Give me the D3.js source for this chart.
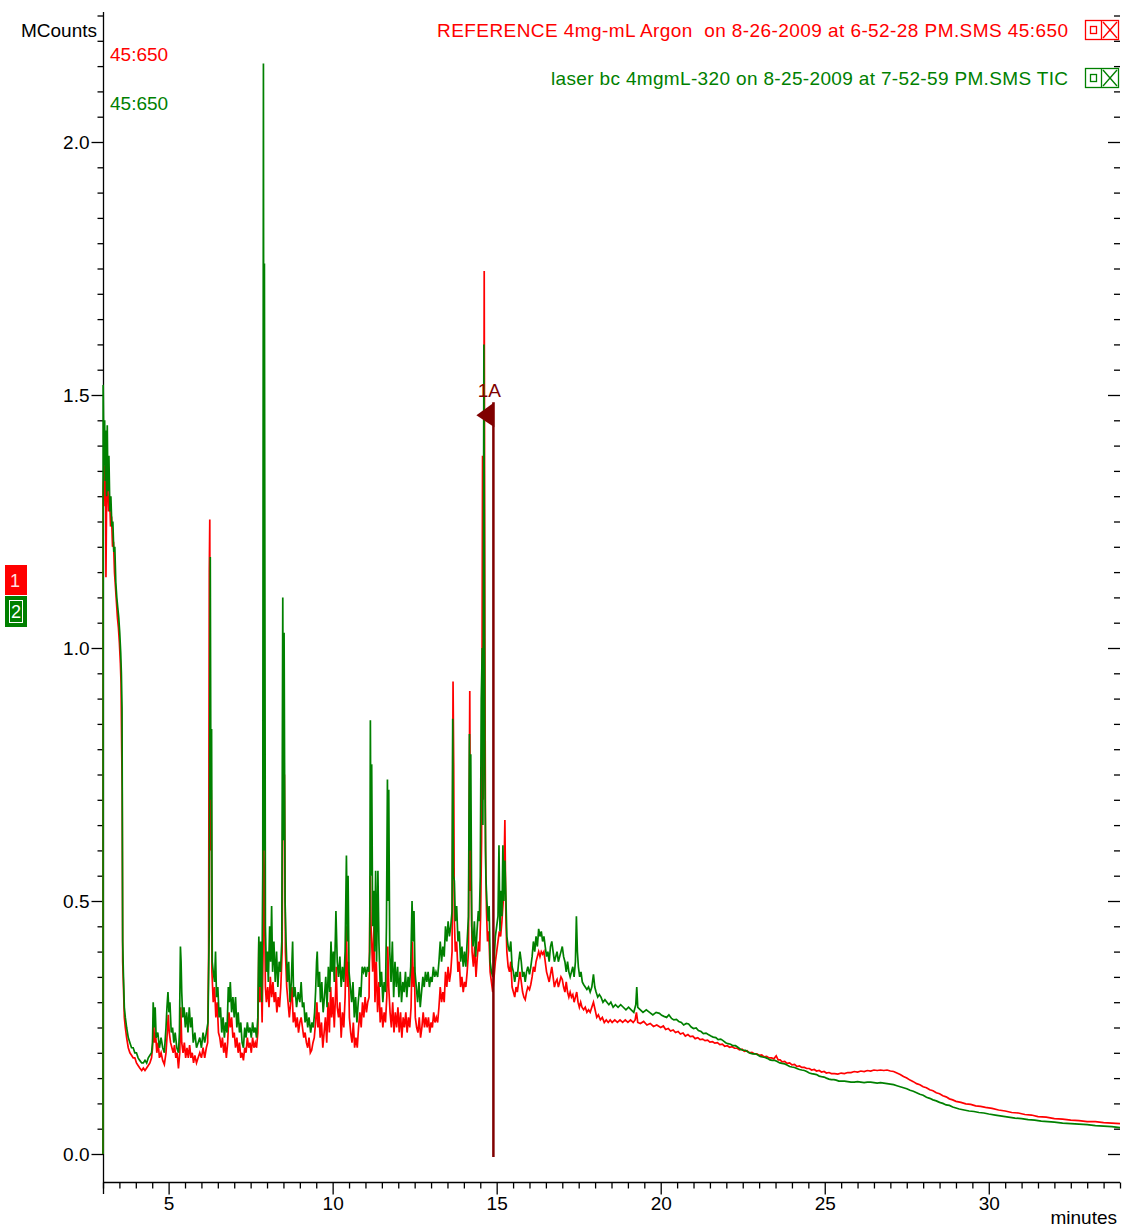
<!DOCTYPE html>
<html>
<head>
<meta charset="utf-8">
<script src="https://cdn.jsdelivr.net/npm/d3@7"></script>
<style>
  html, body { margin: 0; padding: 0; background: #ffffff; }
  svg { display: block; font-family: "Liberation Sans", Arial, sans-serif; }
  .pre { white-space: pre; }
</style>
</head>
<body>
<svg id="chart" width="1125" height="1228"></svg>
<script>
// Trace 1: reference run (45:650), [minutes, MCounts]
const referenceTrace = [
  [3.00,0.00],[3.005,1.30],[3.01,1.32],[3.04,1.36],[3.06,1.28],[3.08,1.34],[3.09,1.14],[3.11,1.30],[3.14,1.33],[3.17,1.27],
  [3.20,1.30],[3.23,1.24],[3.26,1.26],[3.29,1.20],[3.32,1.21],[3.35,1.15],[3.38,1.12],[3.41,1.09],[3.44,1.06],[3.47,1.04],
  [3.50,1.01],[3.53,0.97],[3.55,0.93],[3.57,0.80],[3.585,0.72],[3.60,0.38],[3.62,0.34],[3.65,0.27],[3.68,0.25],[3.72,0.23],
  [3.77,0.21],[3.82,0.20],[3.87,0.195],[3.92,0.19],[3.97,0.19],[4.02,0.18],[4.07,0.175],[4.12,0.17],[4.18,0.165],[4.23,0.17],
  [4.28,0.165],[4.33,0.17],[4.38,0.175],[4.43,0.18],[4.48,0.19],[4.51,0.21],[4.54,0.27],[4.57,0.22],[4.60,0.24],[4.64,0.20],
  [4.68,0.22],[4.72,0.19],[4.77,0.20],[4.82,0.185],[4.87,0.177],[4.92,0.20],[4.96,0.24],[4.99,0.275],[5.02,0.24],[5.06,0.22],
  [5.10,0.21],[5.14,0.20],[5.18,0.215],[5.22,0.19],[5.26,0.20],[5.30,0.169],[5.34,0.20],[5.37,0.29],[5.40,0.22],[5.44,0.20],
  [5.48,0.22],[5.52,0.19],[5.56,0.21],[5.60,0.19],[5.64,0.215],[5.68,0.19],[5.72,0.20],[5.76,0.18],[5.80,0.195],[5.85,0.18],
  [5.90,0.19],[5.95,0.20],[6.00,0.19],[6.05,0.21],[6.10,0.19],[6.15,0.21],[6.19,0.22],[6.22,0.40],[6.24,1.15],[6.255,1.254],
  [6.27,0.60],[6.30,0.72],[6.32,0.36],[6.36,0.30],[6.40,0.33],[6.44,0.27],[6.48,0.30],[6.52,0.24],[6.56,0.23],[6.60,0.21],
  [6.64,0.23],[6.68,0.20],[6.72,0.22],[6.76,0.19],[6.80,0.22],[6.84,0.28],[6.88,0.25],[6.92,0.27],[6.96,0.23],[7.00,0.24],
  [7.04,0.21],[7.08,0.23],[7.12,0.20],[7.16,0.22],[7.20,0.19],[7.24,0.20],[7.28,0.185],[7.32,0.21],[7.36,0.20],[7.40,0.23],
  [7.44,0.21],[7.48,0.22],[7.52,0.20],[7.56,0.23],[7.60,0.21],[7.64,0.22],[7.68,0.21],[7.72,0.24],[7.75,0.42],[7.78,0.30],
  [7.82,0.36],[7.85,0.26],[7.88,0.40],[7.90,0.62],[7.92,0.53],[7.95,0.33],[7.98,0.30],[8.02,0.33],[8.06,0.29],[8.10,0.35],
  [8.14,0.31],[8.18,0.34],[8.22,0.30],[8.26,0.32],[8.30,0.28],[8.34,0.31],[8.38,0.29],[8.42,0.33],[8.46,0.40],[8.49,0.80],
  [8.51,0.63],[8.53,0.75],[8.56,0.40],[8.60,0.33],[8.64,0.30],[8.68,0.27],[8.72,0.30],[8.76,0.33],[8.80,0.26],[8.84,0.28],
  [8.88,0.25],[8.92,0.27],[8.96,0.24],[9.00,0.26],[9.04,0.27],[9.08,0.25],[9.12,0.23],[9.16,0.24],[9.20,0.22],[9.24,0.21],
  [9.28,0.23],[9.32,0.20],[9.36,0.205],[9.40,0.22],[9.44,0.23],[9.48,0.26],[9.52,0.30],[9.55,0.25],[9.58,0.28],[9.62,0.23],
  [9.66,0.26],[9.70,0.21],[9.74,0.24],[9.78,0.27],[9.82,0.22],[9.86,0.30],[9.90,0.24],[9.94,0.33],[9.97,0.27],[10.01,0.31],
  [10.05,0.25],[10.09,0.32],[10.11,0.37],[10.14,0.29],[10.18,0.27],[10.22,0.30],[10.26,0.23],[10.30,0.28],[10.34,0.25],[10.38,0.31],
  [10.42,0.45],[10.45,0.33],[10.48,0.38],[10.51,0.27],[10.55,0.24],[10.59,0.22],[10.63,0.26],[10.67,0.21],[10.71,0.23],[10.75,0.21],
  [10.79,0.25],[10.83,0.28],[10.87,0.25],[10.91,0.30],[10.95,0.27],[10.99,0.31],[11.03,0.28],[11.07,0.30],[11.11,0.31],[11.14,0.52],
  [11.15,0.55],[11.17,0.45],[11.19,0.42],[11.22,0.36],[11.26,0.45],[11.29,0.30],[11.33,0.38],[11.37,0.28],[11.41,0.34],[11.45,0.26],
  [11.49,0.29],[11.53,0.25],[11.57,0.28],[11.61,0.26],[11.65,0.31],[11.68,0.41],[11.71,0.33],[11.75,0.28],[11.79,0.25],[11.83,0.30],
  [11.87,0.24],[11.91,0.28],[11.95,0.25],[11.99,0.29],[12.03,0.24],[12.07,0.28],[12.11,0.23],[12.15,0.27],[12.19,0.25],[12.23,0.28],
  [12.27,0.24],[12.31,0.27],[12.35,0.25],[12.39,0.29],[12.43,0.42],[12.46,0.33],[12.49,0.37],[12.52,0.27],[12.56,0.25],[12.60,0.24],
  [12.64,0.27],[12.68,0.23],[12.72,0.25],[12.76,0.28],[12.80,0.25],[12.84,0.27],[12.88,0.25],[12.92,0.27],[12.96,0.24],[13.00,0.26],
  [13.04,0.25],[13.08,0.28],[13.12,0.26],[13.16,0.27],[13.20,0.26],[13.24,0.29],[13.28,0.33],[13.32,0.30],[13.36,0.32],[13.40,0.30],
  [13.44,0.36],[13.48,0.33],[13.52,0.37],[13.56,0.34],[13.60,0.36],[13.64,0.40],[13.67,0.934],[13.69,0.77],[13.71,0.46],[13.74,0.40],
  [13.78,0.42],[13.82,0.36],[13.86,0.38],[13.90,0.33],[13.94,0.35],[13.98,0.32],[14.02,0.34],[14.06,0.33],[14.10,0.36],[14.14,0.40],
  [14.18,0.915],[14.20,0.52],[14.22,0.55],[14.25,0.40],[14.29,0.37],[14.33,0.41],[14.37,0.35],[14.41,0.39],[14.45,0.42],[14.48,0.40],
  [14.51,0.47],[14.54,0.62],[14.57,1.38],[14.59,0.70],[14.62,1.745],[14.64,1.02],[14.66,0.60],[14.69,0.48],[14.72,0.42],[14.76,0.44],
  [14.80,0.36],[14.84,0.34],[14.88,0.32],[14.92,0.35],[14.96,0.38],[15.00,0.40],[15.04,0.42],[15.08,0.44],[15.12,0.43],[15.16,0.46],
  [15.20,0.50],[15.23,0.58],[15.25,0.66],[15.28,0.47],[15.31,0.40],[15.35,0.37],[15.39,0.36],[15.43,0.38],[15.47,0.33],[15.51,0.32],
  [15.55,0.31],[15.59,0.33],[15.63,0.32],[15.67,0.34],[15.71,0.36],[15.75,0.34],[15.79,0.32],[15.83,0.31],[15.87,0.305],[15.91,0.32],
  [15.95,0.33],[16.00,0.325],[16.04,0.335],[16.08,0.35],[16.12,0.37],[16.16,0.36],[16.20,0.38],[16.24,0.39],[16.28,0.40],[16.32,0.39],
  [16.36,0.40],[16.40,0.395],[16.44,0.40],[16.48,0.38],[16.52,0.36],[16.56,0.35],[16.60,0.34],[16.64,0.355],[16.68,0.37],[16.72,0.35],
  [16.76,0.33],[16.80,0.34],[16.84,0.345],[16.88,0.33],[16.92,0.34],[16.96,0.35],[17.00,0.345],[17.04,0.33],[17.08,0.32],[17.12,0.34],
  [17.16,0.32],[17.20,0.31],[17.24,0.32],[17.28,0.31],[17.32,0.315],[17.36,0.30],[17.40,0.31],[17.44,0.32],[17.48,0.30],[17.52,0.29],
  [17.56,0.30],[17.60,0.29],[17.65,0.285],[17.70,0.29],[17.75,0.28],[17.80,0.285],[17.85,0.28],[17.90,0.29],[17.95,0.30],[18.00,0.285],
  [18.05,0.27],[18.10,0.275],[18.16,0.265],[18.22,0.27],[18.28,0.26],[18.34,0.265],[18.40,0.26],[18.46,0.265],[18.52,0.26],[18.60,0.265],
  [18.68,0.26],[18.76,0.265],[18.84,0.26],[18.92,0.265],[19.00,0.26],[19.08,0.265],[19.16,0.26],[19.22,0.265],[19.26,0.28],[19.30,0.26],
  [19.38,0.258],[19.48,0.262],[19.58,0.255],[19.68,0.258],[19.78,0.252],[19.88,0.255],[20.00,0.25],[20.08,0.253],[20.15,0.246],[20.23,0.248],
  [20.30,0.243],[20.38,0.245],[20.45,0.240],[20.53,0.242],[20.60,0.237],[20.68,0.239],[20.75,0.233],[20.83,0.236],[20.90,0.232],[20.98,0.233],
  [21.05,0.228],[21.13,0.230],[21.20,0.226],[21.28,0.227],[21.35,0.224],[21.43,0.225],[21.50,0.221],[21.58,0.222],[21.65,0.219],[21.73,0.220],
  [21.80,0.216],[21.88,0.217],[21.95,0.213],[22.03,0.214],[22.10,0.211],[22.18,0.212],[22.25,0.209],[22.33,0.209],[22.40,0.206],[22.48,0.207],
  [22.55,0.203],[22.63,0.204],[22.70,0.200],[22.78,0.201],[22.85,0.198],[22.93,0.198],[23.00,0.195],[23.08,0.196],[23.15,0.192],[23.23,0.193],
  [23.30,0.190],[23.38,0.190],[23.45,0.188],[23.52,0.194],[23.58,0.186],[23.64,0.186],[23.70,0.182],[23.78,0.183],[23.85,0.179],[23.93,0.180],
  [24.00,0.176],[24.08,0.177],[24.15,0.173],[24.23,0.174],[24.30,0.171],[24.38,0.171],[24.45,0.169],[24.53,0.169],[24.60,0.166],[24.68,0.167],
  [24.75,0.164],[24.83,0.165],[24.90,0.162],[24.98,0.163],[25.05,0.160],[25.13,0.161],[25.20,0.159],[25.30,0.159],[25.40,0.158],[25.50,0.160],
  [25.60,0.159],[25.70,0.161],[25.80,0.161],[25.90,0.163],[26.00,0.162],[26.10,0.164],[26.20,0.163],[26.30,0.165],[26.40,0.164],[26.50,0.166],
  [26.60,0.165],[26.70,0.166],[26.80,0.165],[26.90,0.166],[27.00,0.164],[27.10,0.163],[27.20,0.160],[27.30,0.157],[27.40,0.153],[27.50,0.150],
  [27.60,0.146],[27.70,0.143],[27.80,0.139],[27.90,0.137],[28.00,0.133],[28.10,0.131],[28.20,0.127],[28.30,0.125],[28.40,0.121],[28.50,0.119],
  [28.60,0.115],[28.70,0.113],[28.80,0.109],[28.90,0.107],[29.00,0.104],[29.15,0.102],[29.30,0.099],[29.45,0.098],[29.60,0.095],[29.75,0.094],
  [29.90,0.092],[30.10,0.090],[30.30,0.087],[30.50,0.085],[30.70,0.082],[30.90,0.081],[31.10,0.078],[31.30,0.077],[31.50,0.074],[31.75,0.073],
  [32.00,0.070],[32.25,0.069],[32.50,0.067],[32.75,0.066],[33.00,0.064],[33.25,0.064],[33.50,0.062],[33.75,0.061],[34.00,0.060]
];

// Trace 2: laser run (TIC), [minutes, MCounts]
const laserTrace = [
  [3.00,0.00],[3.005,1.52],[3.03,1.36],[3.05,1.45],[3.07,1.33],[3.09,1.43],[3.11,1.30],[3.13,1.44],[3.15,1.31],[3.18,1.38],
  [3.21,1.27],[3.24,1.30],[3.27,1.24],[3.30,1.25],[3.33,1.19],[3.36,1.20],[3.39,1.13],[3.42,1.10],[3.45,1.08],[3.48,1.06],
  [3.51,1.03],[3.54,0.99],[3.56,0.95],[3.58,0.88],[3.60,0.42],[3.62,0.36],[3.65,0.29],[3.68,0.27],[3.72,0.25],[3.77,0.23],
  [3.82,0.22],[3.87,0.21],[3.92,0.21],[3.97,0.20],[4.02,0.20],[4.07,0.19],[4.12,0.185],[4.18,0.18],[4.23,0.18],[4.28,0.185],
  [4.33,0.18],[4.38,0.19],[4.43,0.195],[4.48,0.20],[4.51,0.22],[4.53,0.30],[4.56,0.25],[4.59,0.29],[4.62,0.23],[4.67,0.24],
  [4.72,0.21],[4.77,0.23],[4.82,0.21],[4.87,0.20],[4.92,0.25],[4.95,0.29],[4.98,0.32],[5.01,0.28],[5.04,0.30],[5.08,0.24],
  [5.12,0.25],[5.16,0.22],[5.20,0.24],[5.25,0.21],[5.30,0.20],[5.33,0.24],[5.36,0.41],[5.38,0.38],[5.40,0.32],[5.43,0.27],
  [5.47,0.29],[5.51,0.25],[5.55,0.28],[5.59,0.24],[5.63,0.29],[5.67,0.25],[5.71,0.27],[5.75,0.22],[5.80,0.24],[5.85,0.21],
  [5.90,0.22],[5.95,0.23],[6.00,0.21],[6.05,0.24],[6.10,0.22],[6.15,0.24],[6.20,0.26],[6.24,0.45],[6.27,1.18],[6.29,0.70],
  [6.31,0.84],[6.33,0.38],[6.36,0.36],[6.40,0.34],[6.43,0.40],[6.46,0.31],[6.50,0.33],[6.54,0.27],[6.58,0.29],[6.62,0.24],
  [6.66,0.27],[6.70,0.23],[6.74,0.26],[6.78,0.24],[6.82,0.33],[6.85,0.30],[6.88,0.34],[6.92,0.28],[6.96,0.31],[7.00,0.27],
  [7.04,0.31],[7.08,0.25],[7.12,0.28],[7.16,0.24],[7.20,0.26],[7.24,0.22],[7.28,0.21],[7.32,0.25],[7.36,0.23],[7.40,0.26],
  [7.44,0.24],[7.48,0.25],[7.52,0.23],[7.56,0.26],[7.60,0.24],[7.64,0.25],[7.68,0.23],[7.72,0.27],[7.75,0.43],[7.78,0.33],
  [7.81,0.42],[7.84,0.30],[7.87,0.56],[7.89,2.155],[7.91,0.60],[7.92,1.76],[7.95,0.45],[7.98,0.36],[8.01,0.40],[8.04,0.34],
  [8.08,0.45],[8.11,0.38],[8.14,0.49],[8.17,0.36],[8.21,0.42],[8.25,0.34],[8.29,0.40],[8.33,0.33],[8.37,0.38],[8.41,0.36],
  [8.45,0.42],[8.48,1.10],[8.50,0.62],[8.52,1.03],[8.55,0.50],[8.58,0.42],[8.62,0.34],[8.66,0.38],[8.70,0.30],[8.74,0.34],
  [8.78,0.42],[8.81,0.31],[8.85,0.33],[8.90,0.29],[8.95,0.32],[9.00,0.30],[9.04,0.34],[9.08,0.29],[9.12,0.30],[9.16,0.26],
  [9.20,0.28],[9.24,0.25],[9.28,0.27],[9.33,0.24],[9.37,0.26],[9.41,0.25],[9.45,0.28],[9.48,0.32],[9.51,0.38],[9.53,0.40],
  [9.56,0.33],[9.60,0.36],[9.63,0.30],[9.67,0.34],[9.71,0.28],[9.75,0.31],[9.79,0.35],[9.83,0.29],[9.87,0.37],[9.91,0.32],
  [9.95,0.42],[9.98,0.36],[10.02,0.40],[10.05,0.34],[10.08,0.42],[10.10,0.48],[10.14,0.38],[10.18,0.35],[10.22,0.39],[10.26,0.33],
  [10.30,0.37],[10.34,0.34],[10.38,0.40],[10.42,0.59],[10.45,0.42],[10.47,0.55],[10.50,0.36],[10.54,0.33],[10.58,0.30],[10.62,0.34],
  [10.66,0.27],[10.70,0.31],[10.74,0.26],[10.78,0.30],[10.82,0.33],[10.86,0.31],[10.90,0.37],[10.94,0.36],[10.98,0.37],[11.02,0.35],
  [11.06,0.37],[11.10,0.36],[11.13,0.40],[11.15,0.857],[11.17,0.55],[11.19,0.77],[11.22,0.45],[11.25,0.52],[11.28,0.40],[11.31,0.56],
  [11.34,0.38],[11.38,0.56],[11.41,0.42],[11.45,0.33],[11.49,0.36],[11.53,0.30],[11.57,0.34],[11.61,0.32],[11.64,0.45],[11.67,0.74],
  [11.69,0.50],[11.71,0.72],[11.74,0.40],[11.78,0.34],[11.82,0.42],[11.86,0.31],[11.90,0.38],[11.94,0.33],[11.98,0.37],[12.02,0.31],
  [12.06,0.36],[12.10,0.30],[12.14,0.34],[12.18,0.32],[12.22,0.36],[12.26,0.31],[12.30,0.35],[12.34,0.33],[12.38,0.37],[12.42,0.50],
  [12.45,0.42],[12.48,0.48],[12.51,0.36],[12.55,0.33],[12.59,0.30],[12.63,0.34],[12.67,0.29],[12.71,0.32],[12.75,0.35],[12.79,0.33],
  [12.83,0.36],[12.87,0.34],[12.91,0.36],[12.95,0.33],[12.99,0.35],[13.03,0.34],[13.07,0.37],[13.11,0.35],[13.15,0.36],[13.20,0.35],
  [13.24,0.38],[13.28,0.42],[13.32,0.38],[13.36,0.41],[13.40,0.39],[13.44,0.45],[13.48,0.42],[13.52,0.46],[13.56,0.43],[13.60,0.45],
  [13.64,0.48],[13.66,0.86],[13.68,0.55],[13.71,0.54],[13.74,0.46],[13.78,0.49],[13.82,0.42],[13.86,0.44],[13.90,0.38],[13.94,0.41],
  [13.98,0.37],[14.02,0.40],[14.06,0.37],[14.10,0.42],[14.14,0.47],[14.17,0.83],[14.19,0.60],[14.21,0.79],[14.24,0.45],[14.28,0.41],
  [14.32,0.46],[14.36,0.39],[14.40,0.44],[14.44,0.48],[14.47,0.46],[14.50,0.55],[14.53,0.90],[14.56,1.00],[14.58,0.65],[14.61,1.60],
  [14.64,0.75],[14.67,0.55],[14.70,0.50],[14.74,0.46],[14.77,0.49],[14.80,0.38],[14.84,0.36],[14.88,0.35],[14.92,0.38],[14.96,0.43],
  [15.00,0.45],[15.04,0.47],[15.07,0.61],[15.10,0.44],[15.13,0.52],[15.16,0.47],[15.19,0.61],[15.22,0.50],[15.25,0.58],[15.28,0.51],
  [15.31,0.43],[15.35,0.41],[15.39,0.40],[15.43,0.42],[15.47,0.37],[15.51,0.36],[15.55,0.34],[15.59,0.36],[15.63,0.35],[15.67,0.38],
  [15.71,0.40],[15.75,0.38],[15.79,0.35],[15.83,0.36],[15.87,0.34],[15.91,0.36],[15.95,0.37],[16.00,0.355],[16.04,0.37],[16.08,0.39],
  [16.12,0.42],[16.16,0.40],[16.20,0.43],[16.24,0.41],[16.28,0.445],[16.32,0.43],[16.36,0.44],[16.40,0.42],[16.44,0.43],[16.48,0.41],
  [16.52,0.39],[16.56,0.40],[16.60,0.38],[16.64,0.41],[16.68,0.42],[16.72,0.40],[16.76,0.38],[16.80,0.39],[16.84,0.40],[16.88,0.38],
  [16.92,0.39],[16.96,0.40],[17.00,0.41],[17.04,0.39],[17.08,0.38],[17.12,0.36],[17.16,0.38],[17.20,0.36],[17.24,0.35],[17.28,0.36],
  [17.32,0.37],[17.36,0.35],[17.40,0.38],[17.43,0.47],[17.46,0.40],[17.49,0.37],[17.53,0.35],[17.57,0.36],[17.61,0.34],[17.65,0.335],
  [17.70,0.33],[17.75,0.325],[17.80,0.33],[17.85,0.32],[17.90,0.33],[17.95,0.355],[17.99,0.33],[18.03,0.32],[18.08,0.31],[18.13,0.315],
  [18.18,0.31],[18.24,0.30],[18.30,0.305],[18.36,0.30],[18.42,0.295],[18.48,0.30],[18.55,0.29],[18.62,0.295],[18.70,0.29],[18.78,0.295],
  [18.86,0.29],[18.94,0.285],[19.02,0.29],[19.10,0.285],[19.18,0.28],[19.24,0.295],[19.27,0.33],[19.30,0.29],[19.38,0.285],[19.46,0.28],
  [19.56,0.285],[19.66,0.28],[19.76,0.275],[19.86,0.28],[19.96,0.278],[20.03,0.274],[20.10,0.272],[20.18,0.270],[20.25,0.275],[20.33,0.268],
  [20.40,0.265],[20.48,0.266],[20.55,0.262],[20.63,0.260],[20.70,0.255],[20.78,0.258],[20.85,0.257],[20.93,0.251],[21.00,0.248],[21.08,0.249],
  [21.15,0.244],[21.23,0.242],[21.30,0.238],[21.38,0.239],[21.45,0.236],[21.53,0.233],[21.60,0.231],[21.68,0.230],[21.75,0.226],[21.83,0.227],
  [21.90,0.224],[21.98,0.220],[22.05,0.218],[22.13,0.217],[22.20,0.214],[22.28,0.214],[22.35,0.211],[22.43,0.207],[22.50,0.205],[22.58,0.205],
  [22.65,0.202],[22.73,0.199],[22.80,0.198],[22.88,0.198],[22.95,0.196],[23.03,0.193],[23.10,0.192],[23.18,0.191],[23.25,0.189],[23.33,0.186],
  [23.40,0.185],[23.48,0.185],[23.55,0.183],[23.63,0.180],[23.70,0.179],[23.78,0.178],[23.85,0.176],[23.93,0.173],[24.00,0.172],[24.08,0.171],
  [24.15,0.169],[24.23,0.167],[24.30,0.166],[24.38,0.165],[24.45,0.163],[24.53,0.160],[24.60,0.159],[24.68,0.158],[24.75,0.157],[24.83,0.154],
  [24.90,0.153],[24.98,0.152],[25.05,0.150],[25.13,0.148],[25.20,0.147],[25.28,0.147],[25.35,0.146],[25.43,0.144],[25.50,0.144],[25.60,0.144],
  [25.70,0.143],[25.80,0.142],[25.90,0.142],[26.00,0.143],[26.10,0.142],[26.20,0.141],[26.30,0.142],[26.40,0.142],[26.50,0.141],[26.60,0.140],
  [26.70,0.141],[26.80,0.140],[26.90,0.139],[27.00,0.138],[27.10,0.137],[27.20,0.135],[27.30,0.133],[27.40,0.131],[27.50,0.129],[27.60,0.126],
  [27.70,0.124],[27.80,0.121],[27.90,0.118],[28.00,0.116],[28.10,0.112],[28.20,0.110],[28.30,0.107],[28.40,0.105],[28.50,0.102],[28.60,0.100],
  [28.70,0.097],[28.80,0.096],[28.90,0.093],[29.00,0.091],[29.10,0.089],[29.25,0.087],[29.40,0.085],[29.55,0.084],[29.70,0.082],[29.85,0.081],
  [30.00,0.079],[30.20,0.077],[30.40,0.075],[30.60,0.073],[30.80,0.071],[31.00,0.070],[31.20,0.068],[31.40,0.067],[31.60,0.065],[31.80,0.064],
  [32.00,0.063],[32.25,0.061],[32.50,0.060],[32.75,0.059],[33.00,0.058],[33.25,0.056],[33.50,0.055],[33.75,0.054],[34.00,0.052]
];

// Axis ticks
const yMajorTicks = [0.0, 0.5, 1.0, 1.5, 2.0];
const yMinorTicks = d3.range(0, 46).map(i => i * 0.05);
const xMajorTicks = [5, 10, 15, 20, 25, 30];
const xMinorTicks = d3.range(6, 69).map(i => i * 0.5);

// Legend entries, trace badges and peak annotation
const traceNames = [
  "REFERENCE 4mg-mL Argon  on 8-26-2009 at 6-52-28 PM.SMS 45:650",
  "laser bc 4mgmL-320 on 8-25-2009 at 7-52-59 PM.SMS TIC"
];
const legendWidths = [631, 517];
const traceColors = ["#ff0000", "#008000"];
const massRanges = ["45:650", "45:650"];
const peakMarks = [{ label: "1A", minutes: 14.90, height: 1.46 }];

const svg = d3.select("#chart");
const FONT = 19;

const x = d3.scaleLinear().domain([3, 34]).range([103, 1120]);
const y = d3.scaleLinear().domain([0, 2]).range([1154, 142]);
const axisY = 1182;

// --- Y axis (left) ---
svg.append("line").attr("x1", 103.5).attr("x2", 103.5).attr("y1", 12).attr("y2", axisY + 12)
  .attr("stroke", "#000").attr("stroke-width", 1.3);

const isMajor = v => yMajorTicks.some(m => Math.abs(m - v) < 1e-6);
const yMinorAxis = d3.axisLeft(y).tickValues(yMinorTicks.filter(v => !isMajor(v))).tickSize(6).tickFormat("");
const yMajorAxis = d3.axisLeft(y).tickValues(yMajorTicks).tickSize(12).tickPadding(2).tickFormat(d3.format(".1f"));

[yMinorAxis, yMajorAxis].forEach(ax => {
  const g = svg.append("g").attr("transform", "translate(103.5,0)").call(ax);
  g.select(".domain").remove();
  g.selectAll("line").attr("stroke", "#000").attr("stroke-width", 1.3);
  g.selectAll("text").attr("font-size", FONT).attr("font-family", "Liberation Sans, Arial, sans-serif").attr("fill", "#000");
});

// --- Right-hand tick marks ---
const yRightMinor = d3.axisLeft(y).tickValues(yMinorTicks.filter(v => !isMajor(v))).tickSize(6).tickFormat("");
const yRightMajor = d3.axisLeft(y).tickValues(yMajorTicks).tickSize(12).tickFormat("");
[yRightMinor, yRightMajor].forEach(ax => {
  const g = svg.append("g").attr("transform", "translate(1120,0)").call(ax);
  g.select(".domain").remove();
  g.selectAll("line").attr("stroke", "#000").attr("stroke-width", 1.3);
});

// --- X axis ---
svg.append("line").attr("x1", 103).attr("x2", 1120).attr("y1", axisY + 0.5).attr("y2", axisY + 0.5)
  .attr("stroke", "#000").attr("stroke-width", 1.3);

const xMinorAxis = d3.axisBottom(x).tickValues(xMinorTicks.filter(v => !xMajorTicks.includes(v))).tickSize(6).tickFormat("");
const xMajorAxis = d3.axisBottom(x).tickValues(xMajorTicks).tickSize(12).tickPadding(2).tickFormat(d3.format("d"));
[xMinorAxis, xMajorAxis].forEach(ax => {
  const g = svg.append("g").attr("transform", `translate(0,${axisY + 0.5})`).call(ax);
  g.select(".domain").remove();
  g.selectAll("line").attr("stroke", "#000").attr("stroke-width", 1.3);
  g.selectAll("text").attr("font-size", FONT).attr("font-family", "Liberation Sans, Arial, sans-serif").attr("fill", "#000");
});

svg.append("text").attr("x", 1117).attr("y", 1224).attr("text-anchor", "end")
  .attr("font-size", FONT).attr("fill", "#000").text("minutes");

svg.append("text").attr("x", 97).attr("y", 37).attr("text-anchor", "end")
  .attr("font-size", FONT).attr("fill", "#000").text("MCounts");

// --- Mass-range labels ---
massRanges.forEach((m, i) => {
  svg.append("text").attr("x", 110).attr("y", 61 + i * 49)
    .attr("font-size", FONT).attr("fill", traceColors[i]).text(m);
});

// --- Traces ---
const line = d3.line().x(d => x(d[0])).y(d => y(d[1]));
[referenceTrace, laserTrace].forEach((trace, i) => {
  svg.append("path").datum(trace).attr("d", line)
    .attr("fill", "none").attr("stroke", traceColors[i]).attr("stroke-width", 1.7)
    .attr("stroke-linejoin", "miter");
});

// --- Peak annotation ---
const markColor = "#800000";
peakMarks.forEach(p => {
  const px = x(p.minutes), py = y(p.height);
  svg.append("line").attr("x1", px).attr("x2", px).attr("y1", py - 13).attr("y2", y(0) + 3)
    .attr("stroke", markColor).attr("stroke-width", 2.5);
  svg.append("path")
    .attr("d", `M${px + 1},${py - 13} L${px - 17},${py} L${px + 1},${py + 12} Z`)
    .attr("fill", markColor);
  svg.append("text").attr("x", px - 4).attr("y", py - 18).attr("text-anchor", "middle")
    .attr("font-size", FONT).attr("fill", markColor).text(p.label);
});

// --- Legend ---
traceNames.forEach((name, i) => {
  const cy = 30 + i * 48;
  svg.append("text").attr("class", "pre").attr("x", 1068 - legendWidths[i]).attr("y", cy + 7)
    .attr("textLength", legendWidths[i]).attr("lengthAdjust", "spacing")
    .attr("font-size", FONT).attr("fill", traceColors[i]).text(name);
  const g = svg.append("g").attr("stroke", traceColors[i]).attr("stroke-width", 1.3).attr("fill", "none");
  g.append("rect").attr("x", 1085.5).attr("y", cy - 9.5).attr("width", 33).attr("height", 19);
  g.append("line").attr("x1", 1101.5).attr("x2", 1101.5).attr("y1", cy - 9.5).attr("y2", cy + 9.5);
  g.append("rect").attr("x", 1090.5).attr("y", cy - 3.5).attr("width", 6).attr("height", 7);
  g.append("line").attr("x1", 1103).attr("y1", cy - 8).attr("x2", 1117).attr("y2", cy + 8);
  g.append("line").attr("x1", 1117).attr("y1", cy - 8).attr("x2", 1103).attr("y2", cy + 8);
});

// --- Trace badges ---
const badges = svg.append("g");
badges.append("rect").attr("x", 5).attr("y", 565).attr("width", 22).attr("height", 30).attr("fill", traceColors[0]);
badges.append("text").attr("x", 15).attr("y", 587).attr("text-anchor", "middle")
  .attr("font-size", 18).attr("fill", "#ffe0e0").text("1");
badges.append("rect").attr("x", 5).attr("y", 596).attr("width", 22).attr("height", 31).attr("fill", traceColors[1]);
badges.append("rect").attr("x", 9.5).attr("y", 600.5).attr("width", 13).attr("height", 22)
  .attr("fill", "none").attr("stroke", "#ffffff").attr("stroke-width", 1);
badges.append("text").attr("x", 16).attr("y", 618).attr("text-anchor", "middle")
  .attr("font-size", 18).attr("fill", "#ffffff").text("2");
</script>
</body>
</html>
